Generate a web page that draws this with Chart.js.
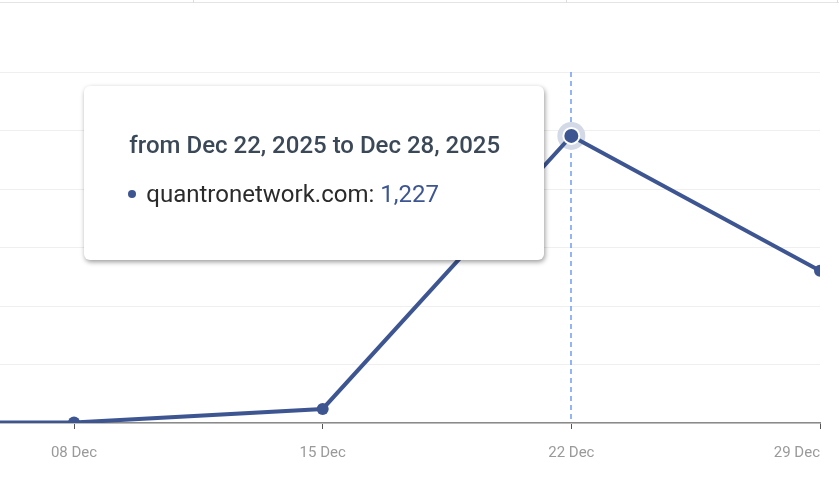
<!DOCTYPE html>
<html>
<head>
<meta charset="utf-8">
<script src="https://cdn.jsdelivr.net/npm/chart.js@4/dist/chart.umd.min.js"></script>
<style>
  html, body { margin: 0; padding: 0; background: #ffffff; overflow: hidden; }
  #wrap { position: relative; width: 839px; height: 477px; }
  #c { display: block; }
  #topline { position: absolute; left: 0; top: 2px; width: 839px; height: 1px; background: #e4e4e4; }
  .tk { position: absolute; top: 0; width: 1px; height: 3px; background: #dcdcdc; }
  #tip { position: absolute; background: #fff; border-radius: 6px; box-shadow: 1px 2px 5px rgba(0,0,0,0.4);
         font-family: Roboto, "Noto Sans", sans-serif; box-sizing: border-box; pointer-events: none; display: none; }
  #tip .t { position: absolute; left: 45px; top: 45px; font-size: 24px; line-height: 28px; font-weight: 500; color: #3b4857; white-space: nowrap; }
  #tip .b { position: absolute; left: 44px; top: 94px; font-size: 24px; line-height: 28px; color: #2b2b2b; white-space: nowrap; }
  #tip .dot { display: inline-block; width: 8px; height: 8px; border-radius: 50%; margin-right: 10px; vertical-align: middle; position: relative; top: -2px; }
</style>
</head>
<body>
<div id="wrap">
  <canvas id="c" width="839" height="477"></canvas>
  <div id="topline"></div>
  <div class="tk" style="left:193px"></div>
  <div class="tk" style="left:566px"></div>
  <div class="tk" style="left:837px"></div>
  <div id="tip"><div class="t"></div><div class="b"></div></div>
</div>
<script>
// ---- data ----
const weekPositions = [0, 1, 2, 3, 4];
const weekLabels = ['01 Dec', '08 Dec', '15 Dec', '22 Dec', '29 Dec'];
const rangeLabels = [
  'from Dec 1, 2025 to Dec 7, 2025',
  'from Dec 8, 2025 to Dec 14, 2025',
  'from Dec 15, 2025 to Dec 21, 2025',
  'from Dec 22, 2025 to Dec 28, 2025',
  'from Dec 29, 2025 to Jan 4, 2026'
];
const seriesName = 'quantronetwork.com';
const visits = [1, 2, 60, 1227, 651];
const shownTicks = [1, 2, 3, 4];
const activeIndex = 3;
const xMin = 0.7024, xMax = 4;

const lineColor = '#3d5591';

const haloPlugin = {
  id: 'halo',
  beforeDatasetsDraw(chart) {
    const act = chart.getActiveElements();
    if (!act.length) return;
    const el = act[0].element;
    const ctx = chart.ctx, area = chart.chartArea;
    ctx.save();
    ctx.strokeStyle = '#5b8ff0';
    ctx.lineWidth = 1.3;
    ctx.setLineDash([5, 4]);
    ctx.beginPath();
    ctx.moveTo(Math.round(el.x), area.top);
    ctx.lineTo(Math.round(el.x), area.bottom);
    ctx.stroke();
    ctx.setLineDash([]);
    ctx.fillStyle = '#d3d9e6';
    ctx.beginPath();
    ctx.arc(el.x, el.y, 14, 0, Math.PI * 2);
    ctx.fill();
    ctx.restore();
  }
};

function externalTip(context) {
  const tip = document.getElementById('tip');
  const tt = context.tooltip;
  if (tt.opacity === 0 || !tt.dataPoints || !tt.dataPoints.length) { tip.style.display = 'none'; return; }
  const idx = tt.dataPoints[0].dataIndex;
  tip.querySelector('.t').textContent = rangeLabels[idx];
  const b = tip.querySelector('.b');
  b.innerHTML = '';
  const dot = document.createElement('span');
  dot.className = 'dot'; dot.style.background = lineColor;
  b.appendChild(dot);
  b.appendChild(document.createTextNode(seriesName + ': '));
  const v = document.createElement('span');
  v.style.color = lineColor;
  v.textContent = visits[idx].toLocaleString('en-US');
  b.appendChild(v);
  const w = 460, h = 174;
  tip.style.width = w + 'px';
  tip.style.height = h + 'px';
  tip.style.left = (tt.caretX - 27 - w) + 'px';
  tip.style.top = (tt.caretY - 50) + 'px';
  tip.style.display = 'block';
}

const chart = new Chart(document.getElementById('c'), {
  type: 'line',
  data: {
    datasets: [{
      label: seriesName,
      data: weekPositions.map((x, i) => ({ x: x, y: visits[i] })),
      borderColor: lineColor,
      backgroundColor: lineColor,
      borderWidth: 4,
      pointRadius: 6,
      pointBackgroundColor: lineColor,
      pointBorderWidth: 0,
      pointHoverRadius: 8,
      pointHoverBorderWidth: 2,
      pointHoverBorderColor: '#ffffff',
      pointHoverBackgroundColor: lineColor,
      tension: 0,
      fill: false
    }]
  },
  options: {
    responsive: false,
    animation: false,
    events: [],
    layout: { autoPadding: false, padding: { left: 0, right: 19, top: 72, bottom: 0 } },
    plugins: {
      legend: { display: false },
      tooltip: { enabled: false, external: externalTip, mode: 'index', intersect: false }
    },
    scales: {
      x: {
        type: 'linear',
        min: xMin,
        max: xMax,
        afterBuildTicks(scale) { scale.ticks = [xMin].concat(shownTicks).map(v => ({ value: v })); },
        ticks: {
          callback: (v) => weekLabels[weekPositions.indexOf(v)] || '',
          color: '#9a9a9a',
          font: { family: 'Roboto', size: 15, lineHeight: '48px' },
          padding: 0,
          align: 'inner',
          maxRotation: 0,
          autoSkip: false
        },
        grid: {
          drawOnChartArea: false, drawTicks: true, tickLength: 6, tickWidth: 1,
          tickColor: (ctx) => (ctx.tick && ctx.tick.value === xMin) ? 'rgba(0,0,0,0)' : '#555555'
        },
        border: { display: true, color: '#8a8a8a', width: 1.5 }
      },
      y: {
        min: 0,
        max: 1500,
        ticks: { display: false, stepSize: 250 },
        grid: { color: '#efefef', drawTicks: false, lineWidth: 1 },
        border: { display: false }
      }
    }
  },
  plugins: [haloPlugin]
});

const pt = chart.getDatasetMeta(0).data[activeIndex];
chart.setActiveElements([{ datasetIndex: 0, index: activeIndex }]);
chart.tooltip.setActiveElements([{ datasetIndex: 0, index: activeIndex }], { x: pt.x, y: pt.y });
chart.update('none');
</script>
</body>
</html>
